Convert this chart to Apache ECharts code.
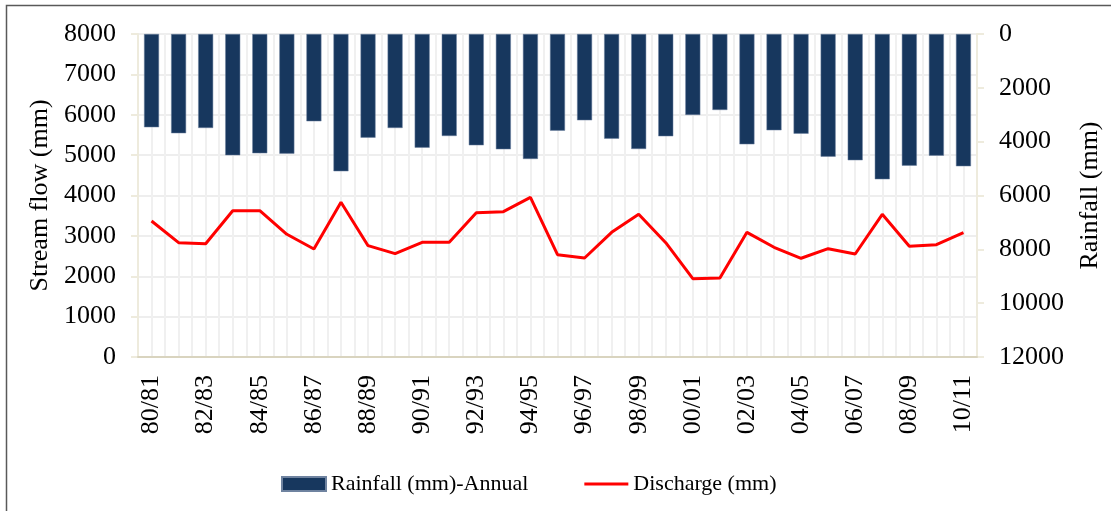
<!DOCTYPE html>
<html>
<head>
<meta charset="utf-8">
<script src="https://cdn.jsdelivr.net/npm/echarts@6/dist/echarts.min.js"></script>
<style>html,body{margin:0;padding:0;background:#fff;}#c{width:1111px;height:511px;}</style>
</head>
<body>
<div id="c"></div>
<script>
const categories = ['80/81','81/82','82/83','83/84','84/85','85/86','86/87','87/88','88/89','89/90','90/91','91/92','92/93','93/94','94/95','95/96','96/97','97/98','98/99','99/00','00/01','01/02','02/03','03/04','04/05','05/06','06/07','07/08','08/09','09/10','10/11'];
const rainfall = [3466, 3688, 3492, 4507, 4433, 4446, 3244, 5101, 3851, 3492, 4223, 3789, 4136, 4284, 4643, 3592, 3207, 3889, 4272, 3801, 3009, 2823, 4099, 3578, 3703, 4557, 4692, 5398, 4892, 4520, 4915];
const discharge = [3368, 2831, 2806, 3624, 3624, 3039, 2675, 3831, 2757, 2559, 2840, 2840, 3575, 3600, 3955, 2534, 2452, 3088, 3534, 2831, 1939, 1957, 3088, 2717, 2445, 2683, 2551, 3534, 2742, 2781, 3079];
const streamTicks = {min: 0, max: 8000, interval: 1000};
const rainTicks = {min: 0, max: 12000, interval: 2000};

const FONT = 'Liberation Serif';
const plain = v => String(v);
const chart = echarts.init(document.getElementById('c'));
chart.setOption({
  backgroundColor: '#fff',
  animation: false,
  textStyle: {fontFamily: FONT, color: '#000'},
  graphic: [{
    type: 'rect', shape: {x: 6.5, y: 5.5, width: 1130, height: 530},
    style: {fill: 'none', stroke: '#595959', lineWidth: 1.5}, silent: true, z: -1
  }],
  grid: {left: 138, right: 133, top: 34, bottom: 154},
  legend: {
    left: 276, top: 468,
    itemWidth: 44, itemHeight: 14, itemGap: 56,
    textStyle: {fontFamily: FONT, fontSize: 22, color: '#000'},
    data: [
      {name: 'Rainfall (mm)-Annual', icon: 'rect'},
      {name: 'Discharge (mm)', icon: 'path://M0,0 L44,0 L44,3 L0,3 Z'}
    ]
  },
  xAxis: [{
    type: 'category', data: categories, boundaryGap: true,
    axisLine: {show: true, lineStyle: {color: '#D9D4BF', width: 2}},
    axisTick: {show: false},
    axisLabel: {interval: 1, rotate: 90, margin: 18, fontFamily: FONT, fontSize: 26, color: '#000'},
    splitLine: {show: false}, z: 5
  }, {
    type: 'value', min: 0, max: categories.length * 2, interval: 1,
    position: 'bottom',
    axisLine: {show: false}, axisTick: {show: false}, axisLabel: {show: false},
    splitLine: {show: true, lineStyle: {color: '#F0F0F0', width: 2}}
  }],
  yAxis: [{
    type: 'value', min: streamTicks.min, max: streamTicks.max, interval: streamTicks.interval,
    name: 'Stream flow (mm)', nameLocation: 'middle', nameGap: 83, nameRotate: 90,
    nameTextStyle: {fontFamily: FONT, fontSize: 26, color: '#000'},
    axisLine: {show: true, lineStyle: {color: '#EEEBDD', width: 2}},
    axisTick: {show: true, inside: false, length: 7, lineStyle: {color: '#EEEBDD', width: 2}},
    axisLabel: {margin: 22, fontFamily: FONT, fontSize: 26, color: '#000', formatter: plain},
    splitLine: {show: true, lineStyle: {color: '#EEEEEE', width: 2}}
  }, {
    type: 'value', min: rainTicks.min, max: rainTicks.max, interval: rainTicks.interval, inverse: true,
    position: 'right',
    name: 'Rainfall (mm)', nameLocation: 'middle', nameGap: 100, nameRotate: 90,
    nameTextStyle: {fontFamily: FONT, fontSize: 26, color: '#000'},
    axisLine: {show: true, lineStyle: {color: '#EEEBDD', width: 2}},
    axisTick: {show: true, inside: false, length: 7, lineStyle: {color: '#EEEBDD', width: 2}},
    axisLabel: {margin: 22, fontFamily: FONT, fontSize: 26, color: '#000', formatter: plain},
    splitLine: {show: false}
  }],
  series: [{
    name: 'Rainfall (mm)-Annual', type: 'bar', xAxisIndex: 0, yAxisIndex: 1,
    data: rainfall, barWidth: 15,
    itemStyle: {color: '#17375E', borderColor: '#6F83A0', borderWidth: 0.5},
    z: 3
  }, {
    name: 'Discharge (mm)', type: 'line', xAxisIndex: 0, yAxisIndex: 0,
    data: discharge, symbol: 'none', showSymbol: false,
    lineStyle: {color: '#FF0000', width: 3}, itemStyle: {color: '#FF0000'},
    z: 4
  }]
});
</script>
</body>
</html>
